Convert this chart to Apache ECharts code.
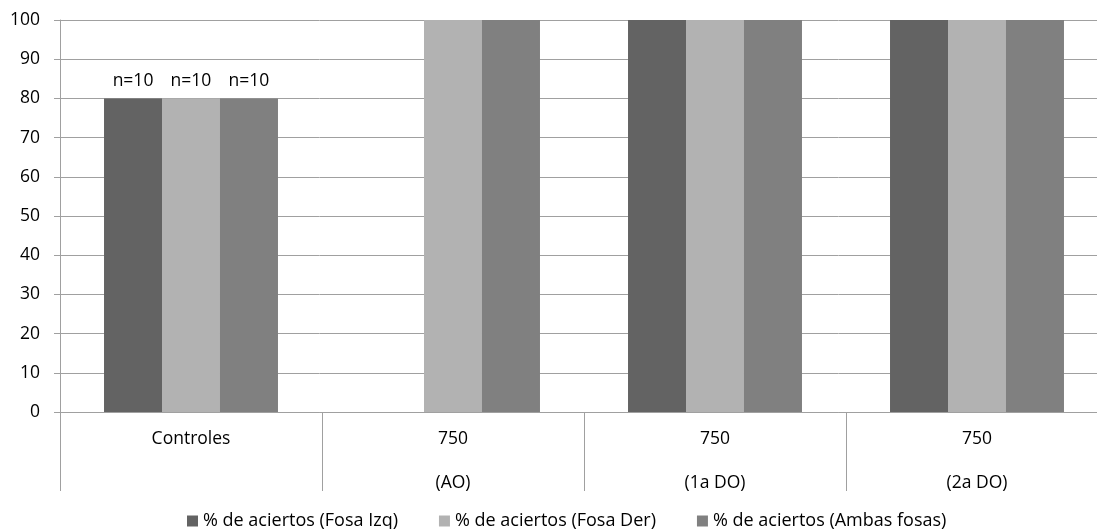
<!DOCTYPE html>
<html>
<head>
<meta charset="utf-8">
<script src="https://cdn.jsdelivr.net/npm/echarts@6/dist/echarts.min.js"></script>
<style>html,body{margin:0;padding:0;background:#fff}#c{width:1097px;height:529px}</style>
</head>
<body>
<div id="c"></div>
<script>
var categories = ['Controles', '750\n(AO)', '750\n(1a DO)', '750\n(2a DO)'];
var seriesNames = ['% de aciertos (Fosa Izq)', '% de aciertos (Fosa Der)', '% de aciertos (Ambas fosas)'];
var fosaIzq = [80, null, 100, 100];
var fosaDer = [80, 100, 100, 100];
var ambas = [80, 100, 100, 100];
var nLabels = ['n=10', '', '', ''];
var yTicks = [0, 10, 20, 30, 40, 50, 60, 70, 80, 90, 100];

var colors = ['#636363', '#b2b2b2', '#808080'];
var FONT = 'Open Sans';
var FS = 17.5;

function mkData(vals) {
  return vals.map(function (v, i) {
    return {
      value: v,
      label: {show: nLabels[i] !== '', formatter: nLabels[i]}
    };
  });
}

var chart = echarts.init(document.getElementById('c'));
var allVals = [fosaIzq, fosaDer, ambas];
chart.setOption({
  animation: false,
  textStyle: {fontFamily: FONT},
  grid: {left: 60, top: 20, width: 1048, height: 392, containLabel: false, outerBoundsMode: 'none'},
  legend: {
    left: 182, top: 507,
    itemWidth: 11, itemHeight: 11, itemGap: 41,
    icon: 'rect',
    textStyle: {fontFamily: FONT, fontSize: 18, color: '#000'},
    data: seriesNames
  },
  xAxis: {
    type: 'category',
    data: categories,
    axisLine: {lineStyle: {color: '#a0a0a0', width: 1}},
    axisTick: {show: true, length: 79, interval: 0, lineStyle: {color: '#a0a0a0'}},
    axisLabel: {
      interval: 0, color: '#000', fontFamily: FONT, fontSize: FS,
      lineHeight: 44, margin: 5, verticalAlign: 'top'
    }
  },
  yAxis: {
    type: 'value', min: yTicks[0], max: yTicks[yTicks.length - 1], interval: 10,
    axisLine: {show: true, lineStyle: {color: '#a0a0a0'}},
    axisTick: {show: true, length: 6, lineStyle: {color: '#a0a0a0'}},
    splitLine: {lineStyle: {color: '#a0a0a0', width: 1}},
    axisLabel: {color: '#000', fontFamily: FONT, fontSize: FS, margin: 20}
  },
  series: seriesNames.map(function (n, k) {
    return {
      name: n, type: 'bar',
      data: mkData(allVals[k]),
      barGap: '0%', barCategoryGap: '33.6%',
      itemStyle: {color: colors[k]},
      label: {position: 'top', distance: 8, color: '#000', fontFamily: FONT, fontSize: FS}
    };
  })
});
</script>
</body>
</html>
